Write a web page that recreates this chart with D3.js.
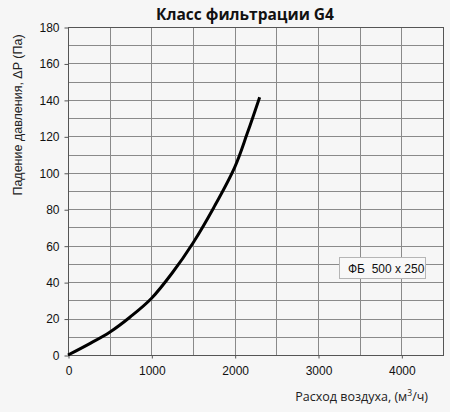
<!DOCTYPE html>
<html>
<head>
<meta charset="utf-8">
<script src="https://cdn.jsdelivr.net/npm/d3@7"></script>
<style>
  body { margin: 0; background: #f6f6f6; }
  svg { display: block; }
</style>
</head>
<body>
<div id="chart"></div>
<script>
const flow = [0, 250, 500, 750, 1000, 1250, 1500, 1750, 2000, 2150, 2300]
const pressure = [0, 6, 12.5, 21, 31, 45, 61.5, 81, 103, 121.5, 141.5]
const xTicks = [0, 1000, 2000, 3000, 4000]
const yTicks = [0, 20, 40, 60, 80, 100, 120, 140, 160, 180]
const seriesName = 'ФБ  500 x 250'

init()

function init(){
    const width = 450, height = 412
    const m = {left: 68, right: 7, top: 27, bottom: 57}

    let svg = d3.select('#chart')
                .append('svg')
                .attr('width', width)
                .attr('height', height)

    svg.append('rect')
        .attr('width', width).attr('height', height)
        .style('fill', '#f6f6f6')

    const x = d3.scaleLinear().domain([0, 4500]).range([m.left, width - m.right])
    const y = d3.scaleLinear().domain([0, 180]).range([height - m.bottom, m.top])

    // grid
    let grid = svg.append('g')
    grid.selectAll('.vx')
        .data(d3.range(500, 4500, 500))
        .join('line')
        .attr('x1', d => Math.round(x(d)) + 0.5).attr('x2', d => Math.round(x(d)) + 0.5)
        .attr('y1', y(0)).attr('y2', y(180))
        .style('stroke', '#8a8a8a')
    grid.selectAll('.hy')
        .data(d3.range(10, 180, 10))
        .join('line')
        .attr('y1', d => Math.round(y(d)) + 0.5).attr('y2', d => Math.round(y(d)) + 0.5)
        .attr('x1', x(0)).attr('x2', x(4500))
        .style('stroke', '#8a8a8a')

    // frame
    svg.append('rect')
        .attr('x', x(0) + 0.5).attr('y', y(180) + 0.5)
        .attr('width', x(4500) - x(0)).attr('height', y(0) - y(180))
        .style('fill', 'none')
        .style('stroke', '#555')

    // axes
    let yAxis = svg.append('g')
        .attr('transform', `translate(${x(0) + 0.5},0.5)`)
        .call(d3.axisLeft(y).tickValues(yTicks).tickSize(4).tickPadding(5))
    let xAxis = svg.append('g')
        .attr('transform', `translate(0.5,${y(0) + 0.5})`)
        .call(d3.axisBottom(x).tickValues(xTicks).tickSize(3).tickPadding(8).tickFormat(d3.format('d')))
    ;[xAxis, yAxis].forEach(a => {
        a.select('.domain').remove()
        a.selectAll('line').style('stroke', '#555')
        a.selectAll('text')
            .style('font-family', 'Liberation Sans, Arial, sans-serif')
            .style('font-size', '12px')
            .style('fill', '#111')
    })

    // curve
    const pts = flow.map((f, i) => [f, pressure[i]])
    svg.append('path')
        .datum(pts)
        .attr('d', d3.line().x(d => x(d[0])).y(d => y(d[1])).curve(d3.curveCatmullRom.alpha(0.5)))
        .style('fill', 'none')
        .style('stroke', '#000')
        .style('stroke-width', 3)
        .style('stroke-linecap', 'butt')

    // legend box
    let lg = svg.append('g').attr('transform', 'translate(339.5,257.5)')
    lg.append('rect')
        .attr('width', 86).attr('height', 21)
        .style('fill', '#f8f8f8')
        .style('stroke', '#b5b5b5')
    lg.append('text')
        .attr('x', 8.5).attr('y', 15)
        .style('font-family', 'Liberation Sans, Arial, sans-serif')
        .style('font-size', '12px')
        .style('white-space', 'pre')
        .style('fill', '#111')
        .text(seriesName)

    // title
    svg.append('text')
        .attr('x', 245).attr('y', 20)
        .attr('text-anchor', 'middle')
        .style('font-family', 'Open Sans, sans-serif')
        .style('font-weight', 'bold')
        .style('font-size', '15.5px')
        .style('fill', '#111')
        .text('Класс фильтрации G4')

    // y label
    svg.append('text')
        .attr('transform', 'translate(22,115) rotate(-90)')
        .attr('text-anchor', 'middle')
        .style('font-family', 'Liberation Sans, Arial, sans-serif')
        .style('font-size', '12.5px')
        .style('fill', '#222')
        .text('Падение давления, ΔP (Па)')

    // x label
    let xl = svg.append('text')
        .attr('x', 428).attr('y', 401)
        .attr('text-anchor', 'end')
        .style('font-family', 'Open Sans, sans-serif')
        .style('font-size', '12.5px')
        .style('fill', '#222')
    xl.append('tspan').text('Расход воздуха, (м')
    xl.append('tspan').attr('dy', -5).style('font-size', '8.5px').text('3')
    xl.append('tspan').attr('dy', 5).text('/ч)')
}
</script>
</body>
</html>
